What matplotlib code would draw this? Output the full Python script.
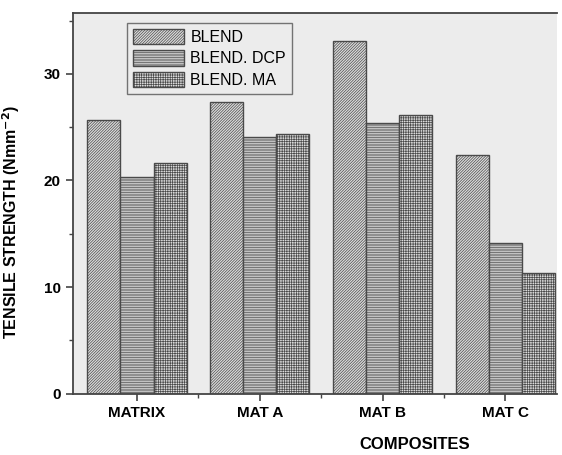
import numpy as np
import matplotlib.pyplot as plt
from matplotlib.ticker import MultipleLocator, FixedLocator

plt.rcParams['font.family'] = ['Liberation Sans', 'DejaVu Sans']
plt.rcParams['hatch.linewidth'] = 0.5
plt.rcParams['hatch.color'] = '#7a7a7a'

# tensile strength of the composites, N/mm^2
composites = ['MATRIX', 'MAT A', 'MAT B', 'MAT C']
series = ['BLEND', 'BLEND. DCP', 'BLEND. MA']
blend = [25.7, 27.4, 33.1, 22.4]
blend_dcp = [20.3, 24.1, 25.4, 14.1]
blend_ma = [21.6, 24.4, 26.1, 11.3]

hatches = ['/' * 12, '-' * 10, '+' * 7]
x = np.arange(len(composites))
w = 0.27

fig = plt.figure(figsize=(5.62, 4.55), dpi=100)
ax = fig.add_axes([0.130, 0.135, 0.861, 0.836])
ax.set_facecolor('#ececec')

for i, (vals, h, lab) in enumerate(zip([blend, blend_dcp, blend_ma], hatches, series)):
    ax.bar(x + (i - 1) * w, vals, w, color='#dcdcdc', edgecolor='#4a4a4a',
           hatch=h, linewidth=1.0, label=lab, zorder=2)

ax.set_xlim(-0.52, 3.42)
ax.set_ylim(0, 35.7)
ax.set_xticks(x)
ax.set_xticklabels(composites, fontsize=11, fontweight='bold')
ax.xaxis.set_minor_locator(FixedLocator([0.5, 1.5, 2.5]))
ax.yaxis.set_major_locator(MultipleLocator(10))
ax.yaxis.set_minor_locator(MultipleLocator(5))
for t in ax.get_yticklabels():
    t.set_fontweight('bold')
    t.set_fontsize(11)
ax.tick_params(which='major', length=5, width=1.2, color='#444444', pad=4)
ax.tick_params(which='minor', length=3, width=1.0, color='#444444')

ax.spines['right'].set_visible(False)
for s in ['left', 'bottom', 'top']:
    ax.spines[s].set_color('#444444')
    ax.spines[s].set_linewidth(1.3)

ax.set_ylabel('TENSILE STRENGTH (Nmm$^{\\mathbf{-2}}$)', fontsize=11.5, fontweight='bold')
ax.yaxis.set_label_coords(-0.105, 0.45)
ax.set_xlabel('COMPOSITES', fontsize=12, fontweight='bold')
ax.xaxis.set_label_coords(0.707, -0.115)

leg = ax.legend(loc='upper left', bbox_to_anchor=(0.112, 0.974), borderaxespad=0,
                fontsize=11.5, frameon=True, fancybox=False, handlelength=3.2,
                handleheight=1.1, labelspacing=0.35, borderpad=0.35, handletextpad=0.4)
leg.get_frame().set_edgecolor('#555555')
leg.get_frame().set_facecolor('#ececec')
leg.get_frame().set_linewidth(1.0)

fig.savefig('out.png', dpi=100)
